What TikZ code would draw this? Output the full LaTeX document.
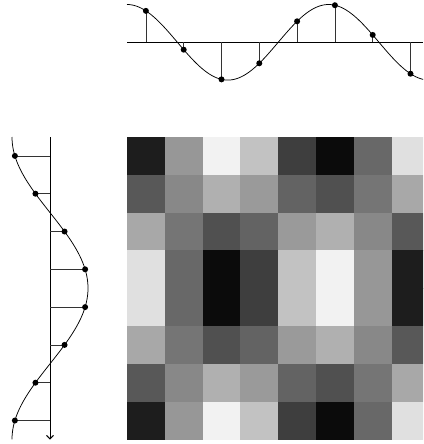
\documentclass[tikz,border=0pt]{standalone}
\usetikzlibrary{arrows.meta}
\begin{document}
\begin{tikzpicture}[x=1pt,y=-1pt,
  axisline/.style={line width=0.9pt,black},
  stemline/.style={line width=0.7pt,black!80},
  curveline/.style={line width=0.75pt,black},
  dotmark/.style={fill=black}]
\useasboundingbox (0,0) rectangle (423,444);
\clip (0,0) rectangle (423,444);
\def\s{37.8}
% grid of gray cells
\foreach \row [count=\i from 0] in {
  {29,151,242,194,62,11,104,224},
  {88,136,176,154,99,80,117,168},
  {168,117,80,99,154,176,136,88},
  {224,104,11,62,194,242,151,29},
  {224,104,11,62,194,242,151,29},
  {168,117,80,99,154,176,136,88},
  {88,136,176,154,99,80,117,168},
  {29,151,242,194,62,11,104,224}}{
  \foreach \c [count=\j from 0] in \row {
    \definecolor{cellc}{RGB}{\c,\c,\c}
    \fill[cellc] ({127+\j*\s},{137+\i*\s}) rectangle +({\s+0.3},{\s+0.3});
  }
}
% top signal
\coordinate (tstart) at (127,42.3);
\coordinate (tend) at (423,42.3);
\draw[axisline] (tstart) -- (tend);
\draw[curveline] plot[domain=0:7.84,samples=120,smooth] ({127+\x*\s},{42.3-37.8*cos(67.5*\x)});
\foreach \n in {0,...,7}{
  \pgfmathsetmacro{\xx}{127+(\n+0.5)*\s}
  \pgfmathsetmacro{\yy}{42.3-37.8*cos(67.5*(\n+0.5))}
  \coordinate (tb\n) at (\xx,42.3);
  \coordinate (td\n) at (\xx,\yy);
  \draw[stemline] (tb\n) -- (td\n);
  \fill[dotmark] (td\n) circle (3);
}
% left signal
\coordinate (lstart) at (50,137);
\coordinate (lend) at (50,439.5);
\draw[axisline,-{Straight Barb[length=3.5pt,width=7pt]}] (lstart) -- (lend);
\draw[curveline] plot[domain=0:8,samples=120,smooth] ({50-38*cos(45*\x)},{137+\x*\s});
\foreach \n in {0,...,7}{
  \pgfmathsetmacro{\yy}{137+(\n+0.5)*\s}
  \pgfmathsetmacro{\xx}{50-38*cos(45*(\n+0.5))}
  \coordinate (lb\n) at (50,\yy);
  \coordinate (ld\n) at (\xx,\yy);
  \draw[stemline] (lb\n) -- (ld\n);
  \fill[dotmark] (ld\n) circle (3);
}
\end{tikzpicture}
\end{document}
